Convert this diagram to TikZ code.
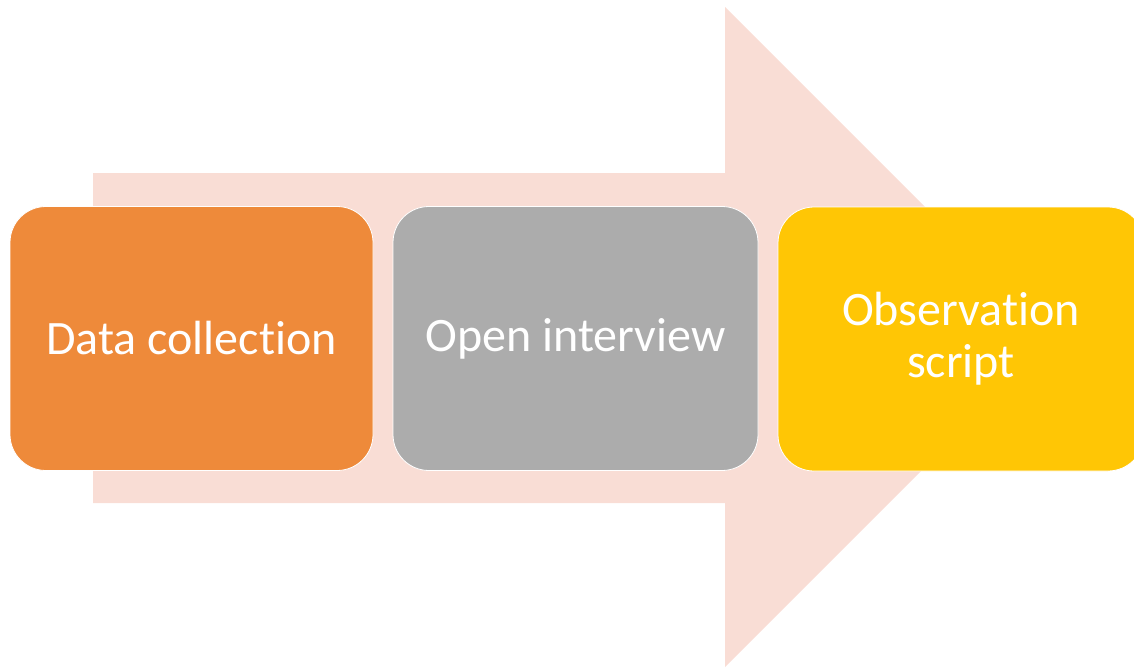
\documentclass[tikz,border=0pt]{standalone}
\usepackage{fontspec}
\setmainfont[Ligatures=NoCommon]{Carlito}
\definecolor{arrowpink}{HTML}{F9DDD5}
\definecolor{steporange}{HTML}{EE8A3A}
\definecolor{stepgray}{HTML}{ACACAC}
\definecolor{stepyellow}{HTML}{FFC605}
\tikzset{
  stepbox/.style={draw=white, line width=0.8pt, rounded corners=36pt,
    minimum width=#1, minimum height=264pt, inner sep=0pt, text=white,
    align=center, font=\fontsize{48}{52}\selectfont},
}
\begin{document}
\begin{tikzpicture}[x=1pt, y=-1pt]
  \useasboundingbox (0,0) rectangle (1134,667);
  % background arrow behind the steps
  \fill[arrowpink] (93,173) -- (725,173) -- (725,7) -- (1055,337)
    -- (725,667) -- (725,503) -- (93,503) -- cycle;
  % process steps
  \node[stepbox=363pt, fill=steporange] (collect) at (191.5,338.5) {Data collection};
  \node[stepbox=365pt, fill=stepgray] (interview) at (575.5,338.5) {Open interview};
  \node[stepbox=366pt, fill=stepyellow] (observe) at (961,339) {Observation\\script};
\end{tikzpicture}
\end{document}
